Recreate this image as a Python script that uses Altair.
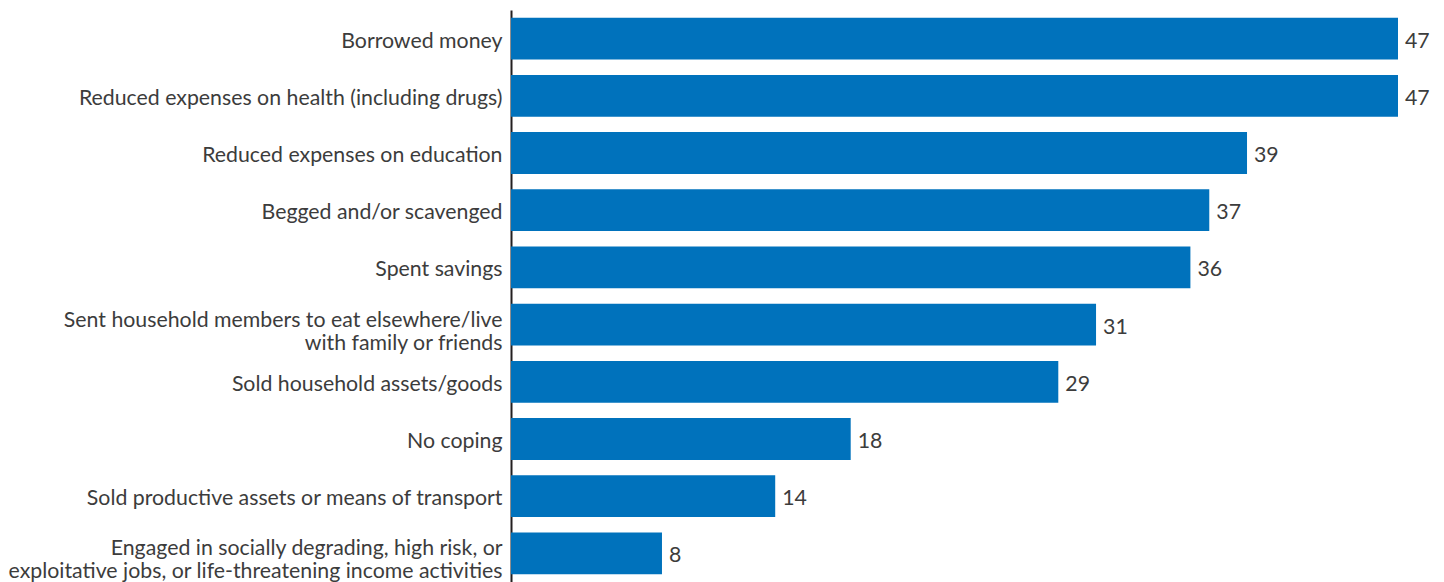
import altair as alt
import pandas as pd

categories = [
    "Borrowed money",
    "Reduced expenses on health (including drugs)",
    "Reduced expenses on education",
    "Begged and/or scavenged",
    "Spent savings",
    "Sent household members to eat elsewhere/live\nwith family or friends",
    "Sold household assets/goods",
    "No coping",
    "Sold productive assets or means of transport",
    "Engaged in socially degrading, high risk, or\nexploitative jobs, or life-threatening income activities",
]
values = [47, 47, 39, 37, 36, 31, 29, 18, 14, 8]

df = pd.DataFrame({"category": categories, "value": values})

FONT = "Lato"
BLUE = "#0072BC"

y = alt.Y(
    "category:N",
    sort=categories,
    scale=alt.Scale(paddingInner=0.27, paddingOuter=0.135),
    axis=alt.Axis(
        title=None,
        ticks=False,
        domainColor="#231f20",
        domainWidth=2,
        labelFont=FONT,
        labelFontSize=21.3,
        labelColor="#3c3c3c",
        labelPadding=9,
        labelLimit=600,
        labelLineHeight=23,
        labelOffset={
            "condition": {"test": "indexof(datum.value, '\\n') >= 0", "value": -4},
            "value": 3,
        },
        labelExpr="split(datum.label, '\\n')",
    ),
)
x = alt.X(
    "value:Q",
    scale=alt.Scale(domain=[0, 47], nice=False),
    axis=None,
)

bars = alt.Chart(df).mark_bar(color=BLUE).encode(x=x, y=y)
text = alt.Chart(df).mark_text(
    align="left", baseline="middle", dx=7, dy=3, font=FONT, fontSize=21.3, color="#3c3c3c"
).encode(x=x, y=alt.Y("category:N", sort=categories), text="value:Q")

chart = (
    alt.layer(bars, text)
    .properties(
        width=887,
        height=572,
        padding={"left": 511, "top": 10, "right": 46, "bottom": 0},
        autosize=alt.AutoSizeParams(type="none"),
    )
    .configure_view(stroke=None)
)

chart.save("out.html", embed_options={"renderer": "svg", "actions": False})
